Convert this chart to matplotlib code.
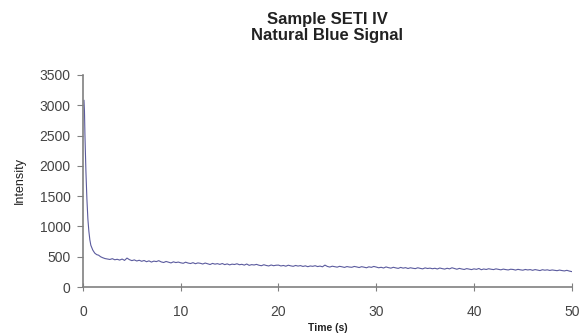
import matplotlib
matplotlib.use("Agg")
import matplotlib.pyplot as plt
import numpy as np

plt.rcParams['font.family'] = ['Liberation Sans', 'DejaVu Sans']

# Fast decay at the start of the measurement (time in s, intensity)
decay_time = [0.1, 0.15, 0.2, 0.3, 0.4, 0.5, 0.6, 0.7, 0.8, 1.0, 1.2, 1.4, 1.6, 1.8]
decay_int = [3080, 2900, 2500, 1900, 1450, 1120, 920, 780, 690, 610, 560, 535, 525, 500]

# Slow tail, sampled every 0.25 s from 2.0 s to 50.0 s (one row = 2 s)
tail_start = 2.0
tail_step = 0.25
tail_int = [
    485, 470, 462, 455, 468, 450, 458, 445,   # 2
    462, 440, 478, 452, 436, 448, 430, 442,   # 4
    425, 438, 418, 432, 412, 428, 420, 435,   # 6
    415, 405, 422, 410, 398, 416, 404, 412,   # 8
    400, 392, 410, 396, 388, 402, 385, 398,   # 10
    392, 380, 396, 384, 372, 390, 378, 386,   # 12
    374, 388, 370, 382, 366, 378, 372, 384,   # 14
    368, 375, 362, 380, 358, 370, 364, 374,   # 16
    360, 352, 368, 356, 348, 364, 352, 360,   # 18
    362, 348, 356, 344, 360, 350, 342, 356,   # 20
    346, 354, 340, 350, 336, 348, 342, 352,   # 22
    338, 346, 334, 362, 340, 330, 344, 336,   # 24
    328, 342, 334, 324, 338, 330, 326, 340,   # 26
    332, 322, 336, 328, 318, 334, 325, 340,   # 28
    330, 318, 326, 314, 332, 320, 312, 326,   # 30
    316, 308, 324, 312, 320, 306, 318, 310,   # 32
    304, 318, 308, 300, 316, 306, 312, 302,   # 34
    310, 298, 314, 304, 296, 310, 300, 318,   # 36
    306, 294, 308, 298, 290, 304, 296, 288,   # 38
    300, 292, 306, 286, 298, 290, 302, 294,   # 40
    288, 300, 292, 284, 296, 288, 282, 294,   # 42
    290, 280, 292, 284, 278, 290, 282, 288,   # 44
    276, 288, 280, 272, 286, 278, 284, 274,   # 46
    282, 276, 270, 280, 272, 266, 276, 264,   # 48
    255,                                      # 50
]

tail_time = tail_start + tail_step * np.arange(len(tail_int))
time = np.concatenate([decay_time, tail_time])
intensity = np.concatenate([decay_int, tail_int])

fig = plt.figure(figsize=(5.87, 3.33), dpi=100)
ax = fig.add_axes([0.1414, 0.138, 0.8326, 0.637])

ax.plot(time, intensity, color='#5b5b9e', linewidth=0.8)

ax.set_xlim(0, 50)
ax.set_ylim(0, 3500)
ax.set_xticks([0, 10, 20, 30, 40, 50])
ax.set_yticks(np.arange(0, 3501, 500))

for side in ['top', 'right']:
    ax.spines[side].set_visible(False)
for side in ['left', 'bottom']:
    ax.spines[side].set_color('#808080')
    ax.spines[side].set_linewidth(1.2)

ax.tick_params(axis='y', direction='out', length=4, color='#808080',
               labelsize=10, labelcolor='#444444', pad=5)
ax.tick_params(axis='x', direction='inout', length=6, color='#808080',
               labelsize=10, labelcolor='#444444', pad=10)

ax.set_xlabel('Time (s)', fontsize=7.5, fontweight='bold', color='#222222', labelpad=3)
ax.set_ylabel('Intensity', fontsize=9, color='#222222', labelpad=10)

fig.suptitle('Sample SETI IV\nNatural Blue Signal', x=0.557, y=0.965,
             fontsize=12, fontweight='bold', color='#222222', linespacing=1.15)

fig.savefig('out.png', dpi=100)
